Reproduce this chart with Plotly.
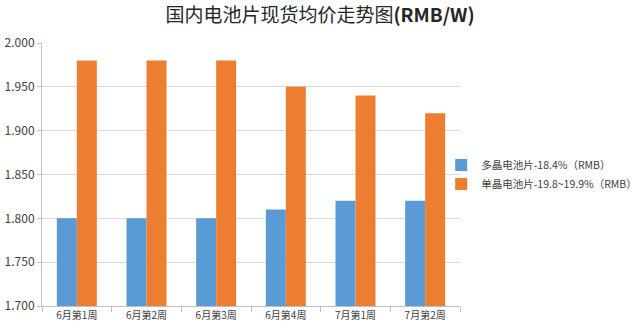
import plotly.graph_objects as go

categories = ["6月第1周", "6月第2周", "6月第3周", "6月第4周", "7月第1周", "7月第2周"]
poly_name = "多晶电池片-18.4%（RMB）"
mono_name = "单晶电池片-19.8~19.9%（RMB）"
poly_values = [1.80, 1.80, 1.80, 1.81, 1.82, 1.82]
mono_values = [1.98, 1.98, 1.98, 1.95, 1.94, 1.92]
y_ticks = [1.70, 1.75, 1.80, 1.85, 1.90, 1.95, 2.00]

font_cjk = "Noto Sans CJK SC, Noto Sans, sans-serif"

fig = go.Figure()
fig.add_trace(go.Bar(x=categories, y=poly_values, name=poly_name,
                     marker=dict(color="#5B9BD5", line=dict(width=0))))
fig.add_trace(go.Bar(x=categories, y=mono_values, name=mono_name,
                     marker=dict(color="#ED7D31", line=dict(width=0))))

fig.update_layout(
    width=640, height=330,
    margin=dict(l=42, r=180, t=43, b=24, autoexpand=False),
    paper_bgcolor="white", plot_bgcolor="white",
    barmode="group", bargap=0.426, bargroupgap=0,
    title=dict(text="国内电池片现货均价走势图<b>(RMB/W)</b>", x=0.5, xanchor="center",
               y=0.955, yanchor="middle", yref="container",
               font=dict(family=font_cjk, size=19, color="#262626")),
    legend=dict(x=0.955, xanchor="left", y=0.5, yanchor="middle",
                font=dict(family=font_cjk, size=10.5, color="#404040"),
                itemwidth=30, tracegroupgap=2, bgcolor="rgba(0,0,0,0)",
                borderwidth=0),
    font=dict(family=font_cjk, color="#595959"),
)
fig.update_xaxes(type="category", tickson="boundaries", ticks="outside", ticklen=5,
                 tickcolor="#bfbfbf", showline=True, linecolor="#bfbfbf", linewidth=1,
                 showgrid=False, tickfont=dict(size=10, color="#404040"), fixedrange=True)
fig.update_yaxes(range=[1.7, 2.0], tickvals=y_ticks, tickformat=".3f", ticks="outside",
                 ticklen=4, tickcolor="#bfbfbf", showline=True, linecolor="#bfbfbf",
                 linewidth=1, showgrid=True, gridcolor="#d9d9d9", zeroline=False,
                 tickfont=dict(size=12, color="#404040"), fixedrange=True)

fig.write_html("out.html")
